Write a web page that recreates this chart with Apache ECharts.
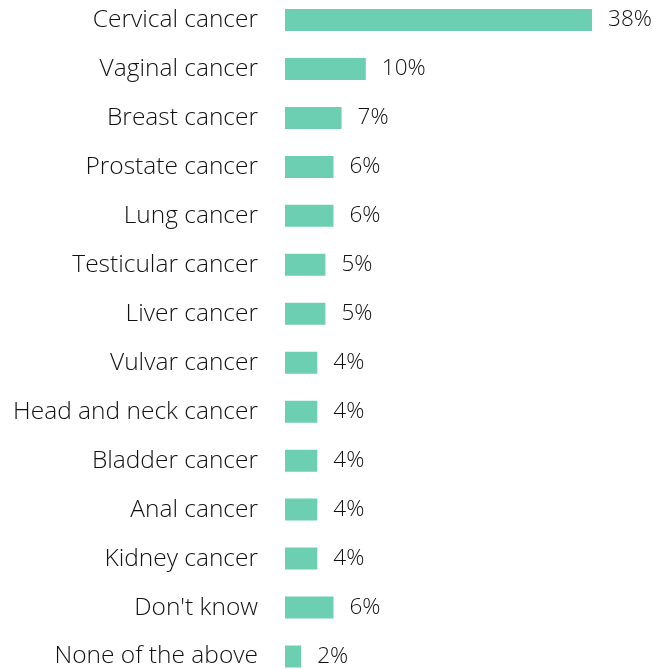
<!DOCTYPE html>
<html><head><meta charset="utf-8">
<script src="https://cdn.jsdelivr.net/npm/echarts@6/dist/echarts.min.js"></script>
<style>html,body{margin:0;padding:0;background:#fff}#c{width:661px;height:669px}</style>
</head><body><div id="c"></div>
<script>
const categories = ["Cervical cancer","Vaginal cancer","Breast cancer","Prostate cancer","Lung cancer","Testicular cancer","Liver cancer","Vulvar cancer","Head and neck cancer","Bladder cancer","Anal cancer","Kidney cancer","Don't know","None of the above"];
const values = [38,10,7,6,6,5,5,4,4,4,4,4,6,2];
const FONT = '"Open Sans", "Segoe UI", sans-serif';
const chart = echarts.init(document.getElementById('c'));
chart.setOption({
  animation:false,
  grid:{left:285, top:20, width:323.2, height:637, containLabel:false},
  xAxis:{type:'value', min:0, max:40, show:false},
  yAxis:{type:'category', data:categories, inverse:true, boundaryGap:false,
    axisLine:{show:false}, axisTick:{show:false}, splitLine:{show:false},
    axisLabel:{margin:27, fontFamily:FONT, fontWeight:300, fontSize:24.5, color:'#111'}},
  series:[{type:'bar', data:values, barWidth:22, clip:false,
    itemStyle:{color:'#6DCFB1'},
    label:{show:true, position:'right', distance:16, formatter:'{c}%', fontFamily:FONT, fontWeight:300, fontSize:22.5, color:'#111'}}]
});
</script></body></html>
